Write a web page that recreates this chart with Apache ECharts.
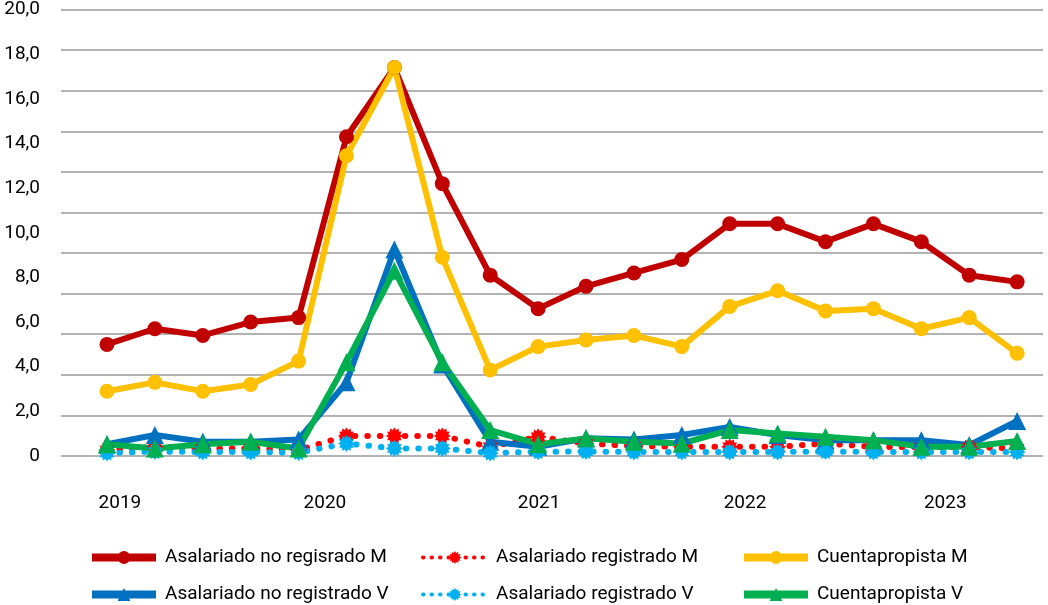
<!DOCTYPE html>
<html>
<head>
<meta charset="utf-8">
<script src="https://cdn.jsdelivr.net/npm/echarts@6/dist/echarts.min.js"></script>
<style>
  html, body { margin: 0; padding: 0; background: #fff; }
  #chart { width: 1048px; height: 605px; }
</style>
</head>
<body>
<div id="chart"></div>
<script>
// quarters 2019-2023 (index on x axis)
const quarters = [0, 1, 2, 3, 4, 5, 6, 7, 8, 9, 10, 11, 12, 13, 14, 15, 16, 17, 18, 19]

const years = ['2019', '2020', '2021', '2022', '2023']
const yearTickAt = [0.27, 4.55, 9.02, 13.32, 17.5]

const yTicks = [0, 2, 4, 6, 8, 10, 12, 14, 16, 18, 20]

const noRegM = [5.0, 5.7, 5.4, 6.0, 6.2, 14.3, 17.4, 12.2, 8.1, 6.6, 7.6, 8.2, 8.8, 10.4, 10.4, 9.6, 10.4, 9.6, 8.1, 7.8]
const regM = [0.27, 0.41, 0.34, 0.34, 0.27, 0.9, 0.9, 0.9, 0.41, 0.86, 0.56, 0.45, 0.41, 0.41, 0.41, 0.56, 0.41, 0.4, 0.4, 0.34]
const cuentaM = [2.9, 3.3, 2.9, 3.2, 4.25, 13.45, 17.4, 8.9, 3.85, 4.9, 5.2, 5.4, 4.9, 6.7, 7.4, 6.5, 6.6, 5.7, 6.2, 4.6]
const noRegV = [0.53, 0.94, 0.64, 0.64, 0.74, 3.3, 9.25, 4.1, 0.64, 0.41, 0.79, 0.74, 0.94, 1.3, 0.94, 0.7, 0.71, 0.71, 0.49, 1.57]
const regV = [0.13, 0.2, 0.18, 0.18, 0.15, 0.56, 0.34, 0.34, 0.13, 0.19, 0.2, 0.18, 0.18, 0.18, 0.18, 0.2, 0.18, 0.18, 0.18, 0.18]
const cuentaV = [0.53, 0.34, 0.53, 0.64, 0.34, 4.2, 8.3, 4.2, 1.16, 0.53, 0.79, 0.64, 0.56, 1.16, 1.01, 0.86, 0.71, 0.41, 0.41, 0.67]

const names = [
  'Asalariado no regisrado M',
  'Asalariado registrado M',
  'Cuentapropista M',
  'Asalariado no registrado V',
  'Asalariado registrado V',
  'Cuentapropista V'
]
const colors = ['#c00000', '#ff0000', '#ffc000', '#0070c0', '#00b0f0', '#00b050']
const isDotted = [false, true, false, false, true, false]

// star-like burst marker
function burst(n, r1, r2) {
  let d = ''
  for (let i = 0; i < 2 * n; i++) {
    const a = Math.PI * i / n
    const r = i % 2 ? r2 : r1
    d += (i ? 'L' : 'M') + (50 + r * Math.sin(a)).toFixed(1) + ' ' + (50 - r * Math.cos(a)).toFixed(1)
  }
  return 'path://' + d + 'Z'
}
const burstSym = burst(12, 50, 36)

const pts = arr => arr.map((v, i) => [quarters[i], v])

function solid(name, data, color, symbol, size) {
  return {
    name, type: 'line', yAxisIndex: 1,
    data: pts(data),
    symbol, symbolSize: size, showSymbol: true,
    lineStyle: { width: 6, color },
    itemStyle: { color },
    emphasis: { disabled: true },
    clip: false
  }
}
function dotted(name, data, color) {
  return {
    name, type: 'line', yAxisIndex: 1,
    data: pts(data),
    symbol: burstSym, symbolSize: 17,
    lineStyle: { width: 6, color, type: [0.5, 12], cap: 'round' },
    itemStyle: { color },
    emphasis: { disabled: true },
    clip: false
  }
}

const legendPos = [
  [88, 548], [421, 548], [740, 548],
  [88, 585], [421, 585], [740, 585]
]

const chart = echarts.init(document.getElementById('chart'))

chart.setOption({
  backgroundColor: '#fff',
  animation: false,
  textStyle: { fontFamily: 'Roboto' },
  grid: { left: 61, right: 5, top: 7, bottom: 149 },
  legend: names.map((n, i) => ({
    data: [n],
    left: legendPos[i][0],
    top: legendPos[i][1],
    padding: 0,
    itemWidth: 64,
    itemHeight: 16,
    selectedMode: false,
    lineStyle: isDotted[i]
      ? { width: 4, color: colors[i], type: [0.5, 8], cap: 'round' }
      : { width: 8, color: colors[i] },
    textStyle: { color: '#000', fontSize: 19, fontFamily: 'Roboto', padding: [0, 0, 0, 4] }
  })),
  xAxis: {
    type: 'value',
    min: -0.96,
    max: 19.54,
    splitLine: { show: false },
    axisLine: { show: false },
    axisTick: { show: false },
    axisLabel: {
      customValues: yearTickAt,
      formatter: v => years[yearTickAt.indexOf(v)] || '',
      color: '#000',
      fontSize: 19,
      margin: 38
    }
  },
  yAxis: [
    {
      type: 'value',
      min: 0, max: 22, interval: 2,
      axisLabel: { show: false },
      axisLine: { show: false },
      axisTick: { show: false },
      splitLine: { lineStyle: { color: '#9a9a9a', width: 1.5 } }
    },
    {
      type: 'value',
      position: 'left',
      min: yTicks[0], max: yTicks[yTicks.length - 1], interval: 2,
      splitLine: { show: false },
      axisLine: { show: false },
      axisTick: { show: false },
      axisLabel: {
        color: '#000',
        fontSize: 19,
        margin: 21,
        padding: [4, 0, 0, 0],
        formatter: v => v === 0 ? '0' : v.toFixed(1).replace('.', ',')
      }
    }
  ],
  series: [
    solid(names[0], noRegM, colors[0], 'circle', 15),
    dotted(names[1], regM, colors[1]),
    solid(names[2], cuentaM, colors[2], 'circle', 15),
    solid(names[3], noRegV, colors[3], 'triangle', 18),
    dotted(names[4], regV, colors[4]),
    solid(names[5], cuentaV, colors[5], 'triangle', 18)
  ]
})
</script>
</body>
</html>
